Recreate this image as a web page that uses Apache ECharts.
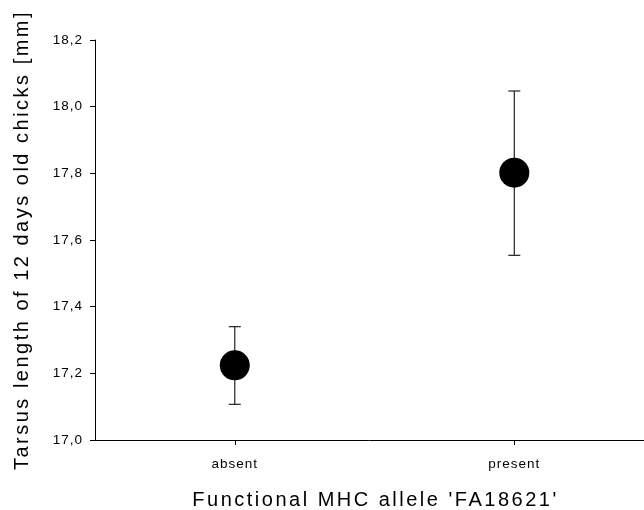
<!DOCTYPE html>
<html>
<head>
<meta charset="utf-8">
<script src="https://cdn.jsdelivr.net/npm/echarts@6/dist/echarts.min.js"></script>
<style>
  html, body { margin: 0; padding: 0; background: #fff; }
  #chart { width: 644px; height: 510px; }
</style>
</head>
<body>
<div id="chart"></div>
<script>
const categories = ['absent', 'present'];
const means = [17.224, 17.802];
const lowers = [17.107, 17.554];
const uppers = [17.340, 18.047];
const yTicks = [17.0, 17.2, 17.4, 17.6, 17.8, 18.0, 18.2];

// the original figure uses widely tracked text; canvas letterSpacing mimics it
const origFillText = CanvasRenderingContext2D.prototype.fillText;
CanvasRenderingContext2D.prototype.fillText = function (text, x, y, maxWidth) {
  const m = /(\d+(?:\.\d+)?)px/.exec(this.font);
  const size = m ? parseFloat(m[1]) : 12;
  this.letterSpacing = (size > 16 ? 2.5 : 1) + 'px';
  return maxWidth === undefined
    ? origFillText.call(this, text, x, y)
    : origFillText.call(this, text, x, y, maxWidth);
};

const font = 'Liberation Sans, Arial, sans-serif';
const chart = echarts.init(document.getElementById('chart'));

const points = means.map((m, i) => [i + 1, m]);
const bars = means.map((m, i) => [i + 1, lowers[i], uppers[i]]);

chart.setOption({
  animation: false,
  grid: { left: 95, top: 40, right: 0, height: 400, outerBoundsMode: 'none', containLabel: false },
  xAxis: {
    type: 'value',
    min: 0.5,
    max: 2.464,
    name: "Functional MHC allele 'FA18621'",
    nameLocation: 'middle',
    nameGap: 50,
    nameTextStyle: { fontFamily: font, fontSize: 20, color: '#000', padding: [0, 0, 0, 12] },
    axisLine: { lineStyle: { color: '#000', width: 1 } },
    axisTick: { show: true, length: 5, lineStyle: { color: '#000' }, customValues: [1, 2] },
    axisLabel: {
      fontFamily: font, fontSize: 13.5, color: '#000', margin: 17,
      customValues: [1, 2],
      formatter: v => categories[Math.round(v) - 1] || ''
    },
    splitLine: { show: false }
  },
  yAxis: {
    type: 'value',
    min: 17,
    max: 18.2,
    interval: 0.2,
    name: 'Tarsus length of 12 days old chicks [mm]',
    nameLocation: 'middle',
    nameGap: 63,
    nameTextStyle: { fontFamily: font, fontSize: 20, color: '#000' },
    axisLine: { show: true, lineStyle: { color: '#000', width: 1 } },
    axisTick: { show: true, length: 5, lineStyle: { color: '#000' } },
    axisLabel: {
      fontFamily: font, fontSize: 13.5, color: '#000', margin: 12,
      formatter: v => {
        const t = yTicks.find(x => Math.abs(x - v) < 1e-6);
        return (t !== undefined ? t : v).toFixed(1).replace('.', ',');
      }
    },
    splitLine: { show: false }
  },
  series: [
    {
      type: 'custom',
      data: bars,
      z: 1,
      renderItem: (params, api) => {
        const x = api.value(0);
        const lo = api.coord([x, api.value(1)]);
        const hi = api.coord([x, api.value(2)]);
        const cap = 6;
        const style = { stroke: '#222', lineWidth: 1.2 };
        return {
          type: 'group',
          children: [
            { type: 'line', shape: { x1: lo[0], y1: lo[1], x2: hi[0], y2: hi[1] }, style },
            { type: 'line', shape: { x1: hi[0] - cap, y1: hi[1], x2: hi[0] + cap, y2: hi[1] }, style },
            { type: 'line', shape: { x1: lo[0] - cap, y1: lo[1], x2: lo[0] + cap, y2: lo[1] }, style }
          ]
        };
      }
    },
    {
      type: 'scatter',
      data: points,
      z: 2,
      symbol: 'circle',
      symbolSize: 30,
      itemStyle: { color: '#000', opacity: 1 }
    }
  ]
});
</script>
</body>
</html>
